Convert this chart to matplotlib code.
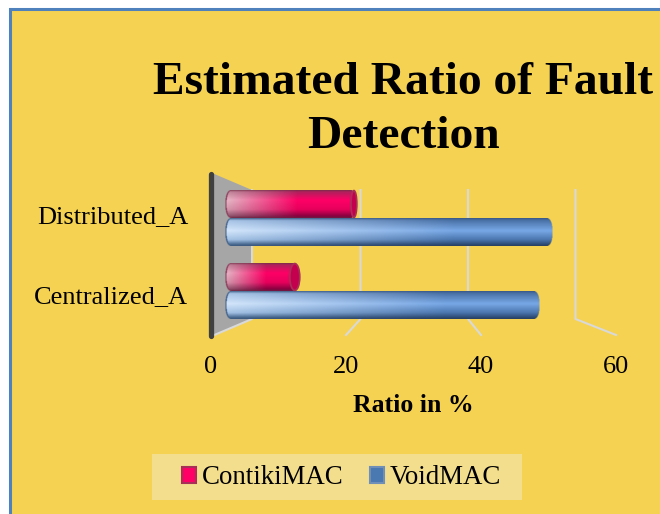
import numpy as np
import matplotlib
matplotlib.use('Agg')
import matplotlib.pyplot as plt
from matplotlib.patches import Rectangle, Polygon, Patch, Ellipse
from matplotlib.colors import to_rgb

categories = ['Centralized_A', 'Distributed_A']
contiki = [11.4, 20.1]
void = [48, 50]
series_names = ['ContikiMAC', 'VoidMAC']
x_ticks = [0, 20, 40, 60]
title = 'Estimated Ratio of Fault\nDetection'
x_label = 'Ratio in %'

W, H = 660, 514
YELLOW = '#f5d251'
GRID = '#d9d9d9'
plt.rcParams['font.family'] = ['Liberation Serif', 'DejaVu Serif']

fig = plt.figure(figsize=(W / 100, H / 100), dpi=100, facecolor='white')


def px_axes(x0, y0, x1, y1):
    # axes placed with picture pixels, y going down
    a = fig.add_axes([x0 / W, 1 - y1 / H, (x1 - x0) / W, (y1 - y0) / H])
    a.patch.set_visible(False)
    for s in a.spines.values():
        s.set_visible(False)
    return a


# background, wall and floor, in pixel coordinates
bg = px_axes(0, 0, W, H)
bg.set_xlim(0, W)
bg.set_ylim(H, 0)
bg.axis('off')
bg.add_patch(Rectangle((9.5, 8.5), W + 20, H + 20, fc=YELLOW, ec='#4f81bd', lw=2.2))
bg.add_patch(Polygon([(212, 173), (252, 190), (252, 319), (212, 336)], fc='#a6a6a6', ec='none'))
bg.plot([212, 252, 252], [336, 319, 190], color=GRID, lw=1.5)
bg.plot([210.5, 210.5], [174, 336], color='#404040', lw=3.8, solid_capstyle='round')
bg.add_patch(Rectangle((152, 454), 370, 46, fc='#f3de8e', ec='none'))


def front_x(v):
    return 211 + v * 6.75


def back_x(v):
    return 253 + v * 5.375


for v in x_ticks[1:]:
    bg.plot([back_x(v), back_x(v), front_x(v)], [190, 319, 335], color=GRID, lw=1.5)

# bars
ax = px_axes(225, 181.5, 618.6, 327.5)
bar_h = 28 / 73
ypos = np.arange(len(categories))
bars_v = ax.barh(ypos - bar_h / 2, void, height=bar_h, color='none')
bars_c = ax.barh(ypos + bar_h / 2, contiki, height=bar_h, color='none')
ax.set_xticks([])
ax.set_yticks([])
px_x = 60 / 393.6


def shade(stops, y):
    pos = [s[0] for s in stops]
    cols = np.array([to_rgb(s[1]) for s in stops])
    return np.stack([np.interp(y, pos, cols[:, i]) for i in range(3)], axis=-1)


PINK = [(0, '#7e2c4c'), (0.06, '#b0205c'), (0.35, '#ff0066'), (0.7, '#e6005c'), (0.93, '#8a0040'), (1, '#701840')]
PINK_L = [(0, '#8a4a60'), (0.06, '#c08a9c'), (0.35, '#e4bcc8'), (0.7, '#d09aac'), (0.93, '#905a70'), (1, '#703048')]
BLUE = [(0, '#3a5a88'), (0.08, '#4a72a8'), (0.45, '#78a8e6'), (0.78, '#4a75ad'), (0.95, '#2c4a74'), (1, '#2a4060')]
BLUE_L = [(0, '#4a6a90'), (0.08, '#a8c4e6'), (0.45, '#d4e6fa'), (0.78, '#a4c2e4'), (0.95, '#4a6a90'), (1, '#3e5a80')]


def draw_cyl(patch, dark, light, fade, cap, edge):
    # gradient picture clipped to a cylinder shape, sized from the bar patch
    x0, y0 = patch.get_x(), patch.get_y()
    w, h = patch.get_width(), patch.get_height()
    px_w = int(round(w / px_x)) * 2
    px_h = 56
    u = np.linspace(0, 1, px_w)
    t = np.linspace(0, 1, px_h)
    mix = np.clip(u / fade, 0, 1)[None, :, None]
    img = shade(light, t)[:, None, :] * (1 - mix) + shade(dark, t)[:, None, :] * mix
    rgba = np.dstack([img, np.ones((px_h, px_w))])
    # round both ends, dark rim on the left one
    dy = (t - 0.5) * 2
    xs = u * w / px_x
    left = 5 - 5 * np.sqrt(np.clip(1 - dy ** 2, 0, 1))
    rim = (xs[None, :] < left[:, None] + 1.3)
    rgba[rim, :3] = to_rgb(edge)
    rgba[:, :, 3] = (xs[None, :] >= left[:, None]).astype(float)
    right = w / px_x - cap + cap * np.sqrt(np.clip(1 - dy ** 2, 0, 1))
    rgba[:, :, 3] *= (xs[None, :] <= right[:, None]).astype(float)
    ax.imshow(rgba, extent=(x0, x0 + w, y0, y0 + h), aspect='auto', interpolation='bilinear', zorder=3)


for p in bars_c:
    draw_cyl(p, PINK, PINK_L, 0.55, 5, '#8a3a58')
    # end cap looks wider the further it is from the middle of the view
    cap_w = 15.3 - 0.47 * p.get_width()
    ax.add_patch(Ellipse((p.get_width() - cap_w / 2 * px_x, p.get_y() + bar_h / 2), cap_w * px_x, bar_h * 0.96,
                         fc='#c4004e', ec='#a83058', lw=1.2, zorder=4))
for p in bars_v:
    draw_cyl(p, BLUE, BLUE_L, 0.7, 5, '#3e5f88')
ax.set_xlim(0, 60)
ax.set_ylim(-0.5, 1.5)

# x tick labels and axis title
ax_x = px_axes(211, 300, 616, 335)
ax_x.set_xlim(0, 60)
ax_x.set_yticks([])
ax_x.set_xticks(x_ticks)
ax_x.tick_params(axis='x', length=0, pad=15, labelsize=19)
ax_x.set_xlabel(x_label, fontsize=18.5, fontweight='bold', labelpad=12)

# category labels
ax_y = px_axes(188, 174.5, 600, 334.5)
ax_y.set_ylim(-0.5, 1.5)
ax_y.set_xticks([])
ax_y.set_yticks(ypos)
ax_y.set_yticklabels(categories)
ax_y.tick_params(axis='y', length=0, pad=0, labelsize=19)

fig.text(403 / W, 1 - 110 / H, title, ha='center', va='center', fontsize=34.2,
         fontweight='bold', linespacing=1.36)

handles = [Patch(fc='#ff0066', ec='#a83058', lw=1.5), Patch(fc='#4a78b0', ec='#6f8fb8', lw=1.5)]
fig.legend(handles, series_names, loc='center', bbox_to_anchor=(341.5 / W, 1 - 478 / H), ncol=2,
           fontsize=19.4, frameon=False, handlelength=0.52, handleheight=0.52, handletextpad=0.2,
           columnspacing=1.0, borderpad=0, borderaxespad=0)

fig.savefig('out.png', dpi=100)
